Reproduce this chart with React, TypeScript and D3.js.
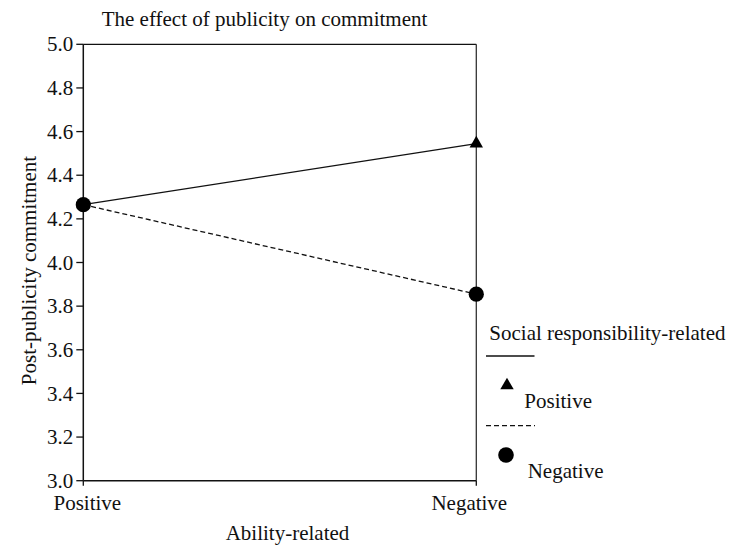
import React from "react";
import * as d3 from "d3";

const categories = ["Positive", "Negative"];
const seriesNames = ["Positive", "Negative"];
const positiveValues = [4.265, 4.545];
const negativeValues = [4.265, 3.855];
const yTicks = [3.0, 3.2, 3.4, 3.6, 3.8, 4.0, 4.2, 4.4, 4.6, 4.8, 5.0];
const titleText = "The effect of publicity on commitment";
const yLabel = "Post-publicity commitment";
const xLabel = "Ability-related";
const legendTitle = "Social responsibility-related";

const W = 731;
const H = 545;
const left = 83.3;
const right = 476.3;
const top = 44.3;
const bottom = 480.7;
const FONT = "Liberation Serif";
const FS = 21;

export default function App() {
  const x = d3.scalePoint<string>().domain(categories).range([left, right]);
  const y = d3.scaleLinear().domain([3, 5]).range([bottom, top]);
  const line = d3
    .line<number>()
    .x((_, i) => x(categories[i]) as number)
    .y((d) => y(d));
  const tri = d3.symbol().type(d3.symbolTriangle).size(78)() as string;
  const labelOffsets = [4, -7];
  const ts = { fontFamily: FONT, fontSize: FS } as React.CSSProperties;

  return (
    <svg
      width={W}
      height={H}
      style={{ position: "absolute", left: 0, top: 0, background: "#fff" }}
    >
      <rect x={0} y={0} width={W} height={H} fill="#fff" />
      <text x={101.7} y={25.5} style={ts} fill="#111">
        {titleText}
      </text>
      <line x1={left} x2={right} y1={top} y2={top} stroke="#111" strokeWidth={1.3} />
      <line x1={right} x2={right} y1={top} y2={bottom} stroke="#333" strokeWidth={1.3} />
      <line x1={left} x2={left} y1={top} y2={bottom} stroke="#111" strokeWidth={1.5} />
      <line x1={left} x2={right} y1={bottom} y2={bottom} stroke="#111" strokeWidth={1.5} />
      {yTicks.map((t) => (
        <g key={t}>
          <line x1={left - 7} x2={left} y1={y(t)} y2={y(t)} stroke="#111" strokeWidth={1.3} />
          <text x={left - 10} y={y(t)} dy="0.34em" textAnchor="end" style={ts} fill="#111">
            {t.toFixed(1)}
          </text>
        </g>
      ))}
      {categories.map((c, i) => (
        <g key={c}>
          <line
            x1={x(c) as number}
            x2={x(c) as number}
            y1={bottom}
            y2={bottom + 5}
            stroke="#111"
            strokeWidth={1.3}
          />
          <text
            x={(x(c) as number) + labelOffsets[i]}
            y={509.5}
            textAnchor="middle"
            style={ts}
            fill="#111"
          >
            {c}
          </text>
        </g>
      ))}
      <text x={287.5} y={540} textAnchor="middle" style={ts} fill="#111">
        {xLabel}
      </text>
      <text
        transform={`translate(36,270.5) rotate(-90)`}
        textAnchor="middle"
        style={ts}
        fill="#111"
      >
        {yLabel}
      </text>
      <path d={line(positiveValues) as string} fill="none" stroke="#111" strokeWidth={1.3} />
      <path
        d={line(negativeValues) as string}
        fill="none"
        stroke="#111"
        strokeWidth={1.3}
        strokeDasharray="5,3"
      />
      {positiveValues.map((v, i) =>
        i === 0 ? null : (
          <path
            key={"t" + i}
            d={tri}
            transform={`translate(${x(categories[i])},${y(v)})`}
            fill="#000"
          />
        )
      )}
      {negativeValues.map((v, i) => (
        <circle key={"c" + i} cx={x(categories[i]) as number} cy={y(v)} r={7.6} fill="#000" />
      ))}
      <text x={489.3} y={340} style={ts} fill="#111">
        {legendTitle}
      </text>
      <line x1={486} x2={534.5} y1={356} y2={356} stroke="#111" strokeWidth={1.3} />
      <path d={tri} transform="translate(507,385.5)" fill="#000" />
      <text x={524.3} y={408.3} style={ts} fill="#111">
        {seriesNames[0]}
      </text>
      <line
        x1={486}
        x2={535}
        y1={425.7}
        y2={425.7}
        stroke="#111"
        strokeWidth={1.3}
        strokeDasharray="5,3"
      />
      <circle cx={506} cy={455} r={7.8} fill="#000" />
      <text x={527.7} y={478} style={ts} fill="#111">
        {seriesNames[1]}
      </text>
    </svg>
  );
}
